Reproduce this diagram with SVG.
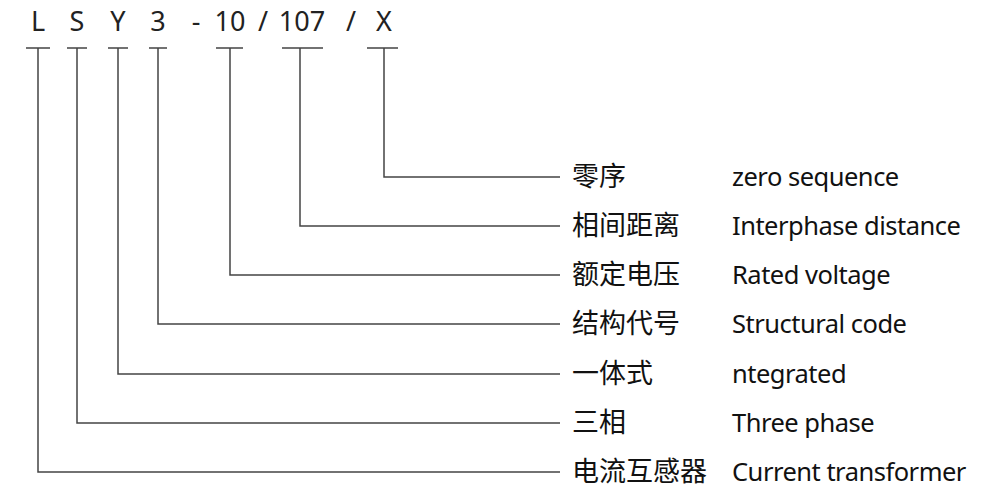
<svg xmlns="http://www.w3.org/2000/svg" width="1000" height="503" viewBox="0 0 1000 503">
<style>
.t{font-family:"Noto Sans","DejaVu Sans",sans-serif;font-size:27px;fill:#222}
.l{stroke:#444;stroke-width:1.5;fill:none}
.c{font-family:"Noto Sans CJK SC",sans-serif;font-size:27px;fill:#111}
.e{font-family:"Noto Sans","Open Sans",sans-serif;font-size:25.5px;fill:#111;letter-spacing:-0.5px}
</style>
<rect width="1000" height="503" fill="#fff"/>
<g id="code">
<text class="t" x="38" y="31" text-anchor="middle">L</text>
<text class="t" x="77" y="31" text-anchor="middle">S</text>
<text class="t" x="118" y="31" text-anchor="middle">Y</text>
<text class="t" x="158" y="31" text-anchor="middle">3</text>
<text class="t" x="196" y="31" text-anchor="middle">-</text>
<text class="t" x="230" y="31" text-anchor="middle">10</text>
<text class="t" x="263" y="31" text-anchor="middle">/</text>
<text class="t" x="302" y="31" text-anchor="middle">107</text>
<text class="t" x="351" y="31" text-anchor="middle">/</text>
<text class="t" x="384" y="31" text-anchor="middle">X</text>
</g>
<g id="connectors" class="l">
<path d="M26 48H50M38 48V472H560"/>
<path d="M67 48H87M77 48V423H560"/>
<path d="M108 48H128M118 48V374H560"/>
<path d="M149 48H167M158 48V324H560"/>
<path d="M216 48H243M230 48V275H560"/>
<path d="M282 48H323M300 48V226H560"/>
<path d="M367 48H398M384 48V177H560"/>
</g>
<g id="n1"><text class="c" x="572" y="186">零序</text><text class="e" x="732" y="186">zero sequence</text></g>
<g id="n2"><text class="c" x="572" y="235">相间距离</text><text class="e" x="732" y="235">Interphase distance</text></g>
<g id="n3"><text class="c" x="572" y="284">额定电压</text><text class="e" x="732" y="284">Rated voltage</text></g>
<g id="n4"><text class="c" x="572" y="333">结构代号</text><text class="e" x="732" y="333">Structural code</text></g>
<g id="n5"><text class="c" x="572" y="383">一体式</text><text class="e" x="732" y="383">ntegrated</text></g>
<g id="n6"><text class="c" x="572" y="432">三相</text><text class="e" x="732" y="432">Three phase</text></g>
<g id="n7"><text class="c" x="572" y="481">电流互感器</text><text class="e" x="732" y="481">Current transformer</text></g>
</svg>
